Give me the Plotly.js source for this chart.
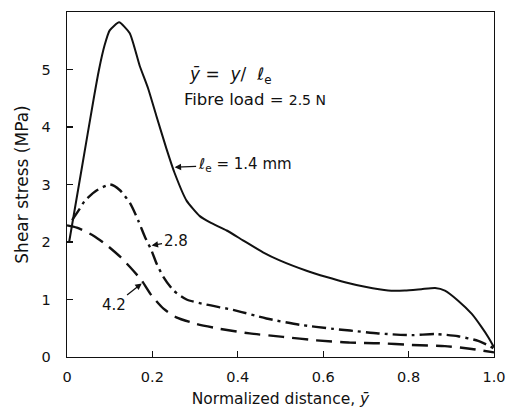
<!DOCTYPE html>
<html>
<head>
<meta charset="utf-8">
<script src="https://cdn.plot.ly/plotly-3.0.1.min.js"></script>
<style>html,body{margin:0;padding:0;background:#fff;}#chart{width:509px;height:414px;}</style>
</head>
<body>
<div id="chart"></div>
<script>
// le = 1.4 mm (solid)
const x14 = [0.005, 0.035, 0.062, 0.075, 0.088, 0.100, 0.122, 0.147, 0.170, 0.190, 0.209, 0.233, 0.252, 0.280, 0.311, 0.335, 0.374, 0.412, 0.459, 0.498, 0.561, 0.608, 0.651, 0.698, 0.752, 0.791, 0.830, 0.862, 0.885, 0.916, 0.948, 0.971, 0.987, 1.0];
const y14 = [2.00, 3.30, 4.47, 5.00, 5.42, 5.68, 5.82, 5.63, 5.07, 4.67, 4.20, 3.62, 3.20, 2.72, 2.45, 2.34, 2.20, 2.03, 1.82, 1.68, 1.50, 1.39, 1.30, 1.22, 1.155, 1.155, 1.18, 1.20, 1.155, 0.98, 0.75, 0.52, 0.34, 0.17];
// le = 2.8 mm (dash-dot)
const x28 = [0.012, 0.030, 0.042, 0.070, 0.101, 0.124, 0.148, 0.167, 0.183, 0.198, 0.210, 0.226, 0.249, 0.280, 0.327, 0.389, 0.467, 0.545, 0.623, 0.663, 0.729, 0.807, 0.862, 0.916, 0.963, 1.0];
const y28 = [2.38, 2.58, 2.72, 2.90, 3.00, 2.90, 2.67, 2.37, 2.08, 1.85, 1.62, 1.39, 1.16, 1.00, 0.91, 0.82, 0.67, 0.56, 0.49, 0.46, 0.41, 0.38, 0.40, 0.36, 0.28, 0.15];
// le = 4.2 mm (dashed)
const x42 = [0.0, 0.023, 0.062, 0.094, 0.125, 0.148, 0.175, 0.198, 0.226, 0.256, 0.303, 0.358, 0.428, 0.506, 0.584, 0.663, 0.729, 0.807, 0.885, 0.948, 1.0];
const y42 = [2.29, 2.25, 2.11, 1.94, 1.74, 1.56, 1.33, 1.07, 0.84, 0.69, 0.575, 0.49, 0.41, 0.35, 0.29, 0.25, 0.24, 0.21, 0.19, 0.14, 0.08];

const xTickVals = [0, 0.2, 0.4, 0.6, 0.8, 1.0];
const xTickText = ['0', '0.2', '0.4', '0.6', '0.8', '1.0'];
const yTickVals = [0, 1, 2, 3, 4, 5];
const yTickText = ['0', '1', '2', '3', '4', '5'];

const FONT = '"DejaVu Sans", sans-serif';
const INK = '#111111';

const traces = [
  {x: x14, y: y14, mode: 'lines', line: {color: INK, width: 2, shape: 'spline', smoothing: 0.5}, hoverinfo: 'skip'},
  {x: x28, y: y28, mode: 'lines', line: {color: INK, width: 2.4, dash: '14px,5px,3px,5px', shape: 'spline', smoothing: 0.6}, hoverinfo: 'skip'},
  {x: x42, y: y42, mode: 'lines', line: {color: INK, width: 2.4, dash: '16px,8px', shape: 'spline', smoothing: 0.6}, hoverinfo: 'skip'}
];

const axisCommon = {
  showline: true, linecolor: INK, linewidth: 1.3, mirror: true,
  ticks: 'inside', ticklen: 6, tickwidth: 1.3, tickcolor: INK,
  showgrid: false, zeroline: false,
  tickfont: {family: FONT, size: 14.5, color: INK}
};

const layout = {
  width: 509, height: 414,
  margin: {l: 67, r: 15, t: 12, b: 57},
  paper_bgcolor: '#fff', plot_bgcolor: '#fff',
  showlegend: false,
  font: {family: FONT, color: INK},
  xaxis: Object.assign({}, axisCommon, {
    range: [0, 1.0], tickmode: 'array', tickvals: xTickVals, ticktext: xTickText,
    ticklabelstandoff: 6,
    title: {text: 'Normalized distance, <i>ȳ</i>', font: {family: FONT, size: 15.5, color: INK}, standoff: 9}
  }),
  yaxis: Object.assign({}, axisCommon, {
    range: [0, 6], tickmode: 'array', tickvals: yTickVals, ticktext: yTickText,
    ticklabelstandoff: 12,
    title: {text: 'Shear stress (MPa)', font: {family: FONT, size: 17, color: INK}, standoff: 8}
  }),
  annotations: [
    {xref: 'x', yref: 'y', x: 0.28, y: 4.9, xanchor: 'left', yanchor: 'middle', showarrow: false,
     text: '<i>ȳ</i> =  <i>y</i>/  <i>ℓ</i><sub>e</sub>', font: {family: FONT, size: 17, color: INK}},
    {xref: 'x', yref: 'y', x: 0.27, y: 4.47, xanchor: 'left', yanchor: 'middle', showarrow: false,
     text: 'Fibre load = <span style="font-size:14px">2.5 N</span>', font: {family: FONT, size: 16.5, color: INK}},
    {xref: 'x', yref: 'y', x: 0.252, y: 3.3, ax: 70, ay: -3, showarrow: true, arrowhead: 2, arrowsize: 1, arrowwidth: 1.3, arrowcolor: INK,
     text: '<i>ℓ</i><sub>e</sub> = 1.4 mm', font: {family: FONT, size: 15, color: INK}},
    {xref: 'x', yref: 'y', x: 0.198, y: 1.94, ax: 24, ay: -4, showarrow: true, arrowhead: 2, arrowsize: 1, arrowwidth: 1.3, arrowcolor: INK,
     text: '2.8', font: {family: FONT, size: 15, color: INK}},
    {xref: 'x', yref: 'y', x: 0.175, y: 1.28, ax: -28, ay: 22, showarrow: true, arrowhead: 2, arrowsize: 1, arrowwidth: 1.3, arrowcolor: INK,
     text: '4.2', font: {family: FONT, size: 15, color: INK}}
  ]
};

Plotly.newPlot('chart', traces, layout, {staticPlot: true, displayModeBar: false});
</script>
</body>
</html>
